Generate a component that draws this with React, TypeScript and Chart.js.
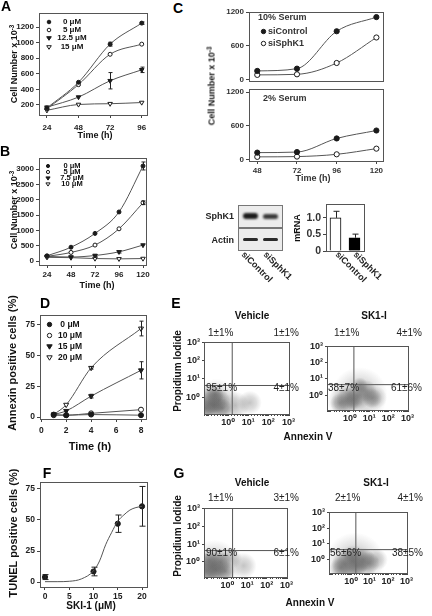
import React, { useEffect, useRef } from "react";
import { Chart, registerables } from "chart.js";
Chart.register(...registerables);

const FONT = "'Liberation Sans', Arial, Helvetica, 'DejaVu Sans', sans-serif";

// ---------- Panel A ----------
const A_HOURS = [24, 48, 72, 96];
const A_LABELS = ["0 μM", "5 μM", "12.5 μM", "15 μM"];
const A_0 = [160, 490, 980, 1250];
const A_5 = [150, 460, 850, 980];
const A_125 = [170, 300, 510, 650];
const A_15 = [130, 205, 215, 230];
const A_ERR_0 = [0, 0, 25, 15];
const A_ERR_125 = [0, 0, 105, 35];
const A_Y_TICKS = [200, 400, 600, 800, 1000, 1200];

// ---------- Panel B ----------
const B_HOURS = [24, 48, 72, 96, 120];
const B_LABELS = ["0 μM", "5 μM", "7.5 μM", "10 μM"];
const B_0 = [170, 450, 900, 1600, 3100];
const B_5 = [150, 280, 520, 1050, 1900];
const B_75 = [150, 130, 180, 300, 520];
const B_10 = [120, 110, 80, 70, 80];
const B_ERR_0 = [0, 0, 0, 0, 130];
const B_ERR_5 = [0, 0, 0, 0, 60];
const B_ERR_75 = [0, 0, 30, 40, 0];
const B_Y_TICKS = [0, 500, 1000, 1500, 2000, 2500, 3000];

// ---------- Panel C ----------
const C_HOURS = [48, 72, 96, 120];
const C_SERIES = ["siControl", "siSphK1"];
const C10_CTRL = [160, 200, 860, 1110];
const C10_SPH = [90, 100, 300, 750];
const C2_CTRL = [130, 140, 380, 520];
const C2_SPH = [55, 60, 100, 200];
const C_Y_TICKS = [0, 600, 1200];
const MRNA_CATS = ["siControl", "siSphK1"];
const MRNA_VALUES = [1.0, 0.4];
const MRNA_ERR = [0.2, 0.11];
const MRNA_TICKS = [0, 0.5, 1.0];

// ---------- Panel D ----------
const D_HOURS = [1, 2, 4, 8];
const D_LABELS = ["0 μM", "10 μM", "15 μM", "20 μM"];
const D_0 = [2, 1.5, 2, 1.5];
const D_10 = [1.5, 1.5, 3, 6];
const D_15 = [2, 5, 17, 38];
const D_20 = [2, 10, 40, 72];
const D_ERR_15 = [0, 0, 1.5, 7];
const D_ERR_20 = [0, 0, 1, 6];
const D_X_TICKS = [0, 2, 4, 6, 8];
const D_Y_TICKS = [0, 25, 50, 75];

// ---------- Panel F ----------
const F_DOSE = [0, 10, 15, 20];
const F_TUNEL = [4, 8.5, 47, 61];
const F_ERR = [2, 3.5, 7, 16];
const F_FIT_X = [0, 2.5, 5, 7.5, 10, 11.25, 12.5, 13.75, 15, 16.25, 17.5, 18.75, 20];
const F_FIT_Y = [0.3, 0.3, 0.6, 2.5, 9, 17, 30, 40, 49, 54, 58, 60, 61];
const F_X_TICKS = [0, 5, 10, 15, 20];
const F_Y_TICKS = [0, 25, 50, 75];

// ---------- Panels E / G (flow cytometry) ----------
const LOG_LABELS = ["10⁰", "10¹", "10²", "10³"];
const FLOW_DECADES = [1, 10, 100, 1000];
const E_VEH_Q = ["1±1%", "1±1%", "95±1%", "4±1%"];
const E_SKI_Q = ["1±1%", "4±1%", "38±7%", "61±6%"];
const G_VEH_Q = ["1±1%", "3±1%", "90±1%", "6±1%"];
const G_SKI_Q = ["2±1%", "4±1%", "56±6%", "38±5%"];
// cloud blobs: [annexin, PI, radius px]
const E_VEH_HALO = [[0.25, 0.5, 24], [2.3, 0.35, 14], [12, 0.5, 12], [0.1, 1.0, 14]];
const E_VEH_CORE = [[0.15, 0.43, 14], [0.35, 0.7, 11], [0.08, 0.25, 11], [0.5, 0.25, 10], [0.22, 1.4, 9], [0.2, 0.35, 9]];
const E_SKI_HALO = [[3.2, 1.0, 28], [0.45, 0.4, 16], [20, 0.7, 12]];
const E_SKI_CORE = [[2.5, 0.9, 14], [6.7, 1.8, 11], [0.8, 0.55, 12], [0.3, 0.32, 10], [14, 0.65, 10], [3.3, 4.0, 8], [1.5, 0.5, 10]];
const G_VEH_HALO = [[0.22, 0.6, 26], [6.6, 0.6, 13], [1.5, 1.6, 11]];
const G_VEH_CORE = [[0.17, 0.54, 16], [0.45, 0.95, 11], [0.09, 0.3, 11], [0.75, 0.3, 10], [0.25, 0.35, 10], [0.12, 1.1, 10]];
const G_SKI_HALO = [[1.6, 0.66, 30], [25, 1, 11]];
const G_SKI_CORE = [[1.35, 0.8, 16], [0.45, 0.54, 13], [4.5, 1.0, 12], [9, 0.6, 11], [0.27, 0.3, 11], [2, 0.4, 11], [1.1, 1.6, 9]];

// ---------- helpers ----------
type Box = { l: number; t: number; r: number; b: number };
type Pad = { L: number; T: number; R: number; B: number };
const DEF_PAD: Pad = { L: 40, T: 10, R: 14, B: 24 };

const framePlugin = {
  id: "frame",
  afterDatasetsDraw(chart: any) {
    const { ctx, chartArea: a } = chart;
    ctx.save();
    ctx.strokeStyle = "#555";
    ctx.lineWidth = 1;
    ctx.strokeRect(Math.round(a.left) + 0.5, Math.round(a.top) + 0.5, Math.round(a.right - a.left), Math.round(a.bottom - a.top));
    ctx.restore();
  },
};

const errPlugin = {
  id: "errbars",
  afterDatasetsDraw(chart: any) {
    const ctx = chart.ctx;
    const ys = chart.scales.y;
    chart.data.datasets.forEach((ds: any, i: number) => {
      if (!ds.err) return;
      const meta = chart.getDatasetMeta(i);
      ds.err.forEach((e: number, j: number) => {
        if (!e) return;
        const el: any = meta.data[j];
        if (!el) return;
        const raw = ds.data[j];
        const v = typeof raw === "number" ? raw : raw.y;
        const x = Math.round(el.x) + 0.5;
        const top = ys.getPixelForValue(v + e);
        const bot = ys.getPixelForValue(ds.errUp ? v : v - e);
        const cw = ds.cap ?? 2;
        ctx.save();
        ctx.strokeStyle = "#222";
        ctx.lineWidth = 1;
        ctx.beginPath();
        ctx.moveTo(x, top);
        ctx.lineTo(x, bot);
        ctx.moveTo(x - cw, top);
        ctx.lineTo(x + cw, top);
        if (!ds.errUp) {
          ctx.moveTo(x - cw, bot);
          ctx.lineTo(x + cw, bot);
        }
        ctx.stroke();
        ctx.restore();
      });
    });
  },
};

function axis(o: {
  min: number; max: number; ticks?: number[]; size?: number; pad?: number; len?: number;
  labels?: boolean; marks?: boolean; fmt?: (v: number) => string; type?: string; color?: string;
}) {
  return {
    type: o.type || "linear",
    min: o.min,
    max: o.max,
    afterBuildTicks: o.ticks ? (s: any) => { s.ticks = o.ticks!.map((v) => ({ value: v })); } : undefined,
    grid: { display: o.marks !== false, drawOnChartArea: false, drawTicks: true, tickLength: o.len ?? 3, color: "#444", lineWidth: 1 },
    border: { display: false },
    ticks: {
      display: o.labels !== false,
      autoSkip: false,
      maxRotation: 0,
      minRotation: 0,
      padding: o.pad ?? 2,
      color: o.color || "#222",
      font: { family: FONT, size: o.size ?? 8, weight: "bold" },
      callback: o.fmt ? (v: any) => o.fmt!(Number(v)) : (v: any) => String(v),
    },
  };
}

function series(xs: number[], ys: number[], kind: string, r = 2, err?: number[], line = true) {
  const tri = kind.includes("tri");
  return {
    type: "line",
    data: xs.map((x, i) => ({ x, y: ys[i] })),
    showLine: line,
    borderColor: "#555",
    borderWidth: 1,
    cubicInterpolationMode: "monotone",
    pointStyle: tri ? "triangle" : "circle",
    pointRotation: tri ? 180 : 0,
    pointRadius: tri ? r + 0.6 : r,
    pointBackgroundColor: kind === "dot" || kind === "tri" ? "#1a1a1a" : "#fff",
    pointBorderColor: "#1a1a1a",
    pointBorderWidth: 1,
    err,
    cap: 2,
    clip: 8,
  };
}

function ChartBox({ box, pad = DEF_PAD, build }: { box: Box; pad?: Pad; build: () => any }) {
  const ref = useRef<HTMLCanvasElement | null>(null);
  const w = box.r - box.l + pad.L + pad.R;
  const h = box.b - box.t + pad.T + pad.B;
  useEffect(() => {
    if (!ref.current) return;
    const cfg = build();
    const o = cfg.options || (cfg.options = {});
    o.responsive = false;
    o.maintainAspectRatio = false;
    o.animation = false;
    o.devicePixelRatio = 1;
    o.events = [];
    o.layout = { padding: { left: 0, top: pad.T, right: pad.R, bottom: 0 } };
    o.plugins = Object.assign({ legend: { display: false }, tooltip: { enabled: false }, title: { display: false } }, o.plugins || {});
    o.scales.x.afterFit = (s: any) => { s.height = pad.B; };
    o.scales.y.afterFit = (s: any) => { s.width = pad.L; };
    cfg.plugins = [...(cfg.plugins || []), framePlugin, errPlugin];
    const chart = new Chart(ref.current, cfg);
    return () => chart.destroy();
  }, []);
  return (
    <canvas
      ref={ref}
      width={w}
      height={h}
      style={{ position: "absolute", left: box.l - pad.L, top: box.t - pad.T, width: w, height: h }}
    />
  );
}

function Tx({ x, y, s = 9, b = true, a = "c", r = 0, c = "#111", children }: any) {
  const tx = a === "c" ? "-50%" : a === "r" ? "-100%" : "0";
  return (
    <div
      style={{
        position: "absolute", left: x, top: y,
        transform: `translate(${tx},-50%) rotate(${r}deg)`,
        fontFamily: FONT, fontSize: s, fontWeight: b ? "bold" : "normal", color: c,
        whiteSpace: "nowrap", lineHeight: 1,
      }}
    >
      {children}
    </div>
  );
}

function Diag({ x, y, s = 9, children }: any) {
  return (
    <div
      style={{
        position: "absolute", left: x, top: y, transformOrigin: "0 0", transform: "rotate(45deg)",
        fontFamily: FONT, fontSize: s, fontWeight: "bold", color: "#222", whiteSpace: "nowrap", lineHeight: 1,
      }}
    >
      {children}
    </div>
  );
}

function Mk({ x, y, k, r = 2 }: { x: number; y: number; k: string; r?: number }) {
  const s = Math.ceil(r * 2 + 4);
  const fill = k === "dot" || k === "tri" ? "#1a1a1a" : "#fff";
  return (
    <svg style={{ position: "absolute", left: x - s / 2, top: y - s / 2 }} width={s} height={s}>
      {k.includes("tri") ? (
        <polygon points={`${s / 2 - r - 0.5},${s / 2 - r + 0.5} ${s / 2 + r + 0.5},${s / 2 - r + 0.5} ${s / 2},${s / 2 + r + 0.5}`} fill={fill} stroke="#1a1a1a" strokeWidth={1} />
      ) : (
        <circle cx={s / 2} cy={s / 2} r={r} fill={fill} stroke="#1a1a1a" strokeWidth={1} />
      )}
    </svg>
  );
}

function YTitle({ x, y, s = 9 }: any) {
  return (
    <Tx x={x} y={y} s={s} r={-90}>
      Cell Number x 10<sup style={{ fontSize: s * 0.7, verticalAlign: "top", position: "relative", top: -1 }}>-3</sup>
    </Tx>
  );
}

function Letter({ x, y, ch }: any) {
  return <Tx x={x} y={y} s={14} c="#000">{ch}</Tx>;
}

function timeChart(box: Box, xMin: number, xMax: number, xTicks: number[], yMin: number, yMax: number, yTicks: number[], datasets: any[], o: any = {}) {
  return () => ({
    type: "line",
    data: { datasets },
    options: {
      scales: {
        x: axis({ min: xMin, max: xMax, ticks: xTicks, size: o.size ?? 8, pad: o.xpad ?? 3, labels: o.xlabels !== false, marks: o.xmarks !== false, color: o.color }),
        y: axis({ min: yMin, max: yMax, ticks: yTicks, size: o.size ?? 8, pad: o.ypad ?? 2, color: o.color }),
      },
    },
  });
}

function cloud(blobs: number[][], alpha: number) {
  return {
    type: "bubble",
    data: blobs.map(([x, y, r]) => ({ x, y, r })),
    backgroundColor: (c: any) => {
      const chart = c.chart;
      const raw = c.raw;
      if (!raw || !chart.scales || !chart.scales.x) return "rgba(0,0,0,0)";
      const px = chart.scales.x.getPixelForValue(raw.x);
      const py = chart.scales.y.getPixelForValue(raw.y);
      if (!isFinite(px) || !isFinite(py)) return "rgba(0,0,0,0)";
      const g = chart.ctx.createRadialGradient(px, py, 0, px, py, raw.r);
      g.addColorStop(0, `rgba(100,100,100,${alpha})`);
      g.addColorStop(0.55, `rgba(110,110,110,${alpha * 0.6})`);
      g.addColorStop(1, "rgba(120,120,120,0)");
      return g;
    },
    borderWidth: 0,
    clip: 0,
  };
}

function vline(x: number, y0: number, y1: number) {
  return { type: "line", data: [{ x, y: y0 }, { x, y: y1 }], borderColor: "#555", borderWidth: 1, pointRadius: 0, clip: 0 };
}

const logFmt = (v: number) => {
  const e = Math.log10(v);
  const k = Math.round(e);
  return Math.abs(e - k) < 1e-6 && k >= 0 && k <= 3 ? LOG_LABELS[k] : "";
};

function flowChart(halo: number[][], core: number[][], qx: number, qy: number, yMin: number, coreAlpha = 0.55) {
  const xMin = 0.063, xMax = 1070, yMax = 1070;
  return () => ({
    type: "scatter",
    data: {
      datasets: [
        cloud(halo, 0.38),
        cloud(core, coreAlpha),
        vline(qx, yMin, yMax),
        { type: "line", data: [{ x: xMin, y: qy }, { x: xMax, y: qy }], borderColor: "#555", borderWidth: 1, pointRadius: 0, clip: 0 },
      ],
    },
    options: {
      scales: {
        x: { ...axis({ type: "logarithmic", min: xMin, max: xMax, size: 9, pad: 1, len: 2, fmt: logFmt }) },
        y: { ...axis({ type: "logarithmic", min: yMin, max: yMax, ticks: FLOW_DECADES, size: 9, pad: 2, len: 2, fmt: logFmt }) },
      },
    },
  });
}

function QuadLabels({ box, q, ty, by, tlx, blx }: any) {
  return (
    <>
      <Tx x={tlx} y={ty} s={10} b={false} a="l" c="#222">{q[0]}</Tx>
      <Tx x={box.r} y={ty} s={10} b={false} a="r" c="#222">{q[1]}</Tx>
      <Tx x={blx} y={by} s={10} b={false} a="l" c="#222">{q[2]}</Tx>
      <Tx x={box.r} y={by} s={10} b={false} a="r" c="#222">{q[3]}</Tx>
    </>
  );
}

// ---------- boxes ----------
const BOX_A: Box = { l: 39, t: 13, r: 147, b: 115 };
const BOX_B: Box = { l: 39, t: 158, r: 146, b: 265 };
const BOX_C1: Box = { l: 249, t: 12, r: 383, b: 81 };
const BOX_C2: Box = { l: 249, t: 89, r: 383, b: 161 };
const BOX_M: Box = { l: 326, t: 204, r: 364, b: 251 };
const BOX_D: Box = { l: 40, t: 315, r: 146, b: 419 };
const BOX_F: Box = { l: 40, t: 482, r: 147, b: 587 };
const BOX_EV: Box = { l: 204, t: 328, r: 299, b: 414 };
const BOX_ES: Box = { l: 327, t: 328, r: 422, b: 414 };
const BOX_GV: Box = { l: 204, t: 492, r: 299, b: 579 };
const BOX_GS: Box = { l: 329, t: 492, r: 423, b: 579 };

export default function App() {
  const kinds = ["dot", "ring", "tri", "otri"];
  return (
    <div style={{ position: "absolute", left: 0, top: 0, width: 432, height: 616, background: "#fff", overflow: "hidden" }}>
      {/* ---- A ---- */}
      <ChartBox
        box={BOX_A}
        build={timeChart(BOX_A, 18, 100, A_HOURS, 70, 1380, A_Y_TICKS, [
          series(A_HOURS, A_0, "dot", 2, A_ERR_0),
          series(A_HOURS, A_5, "ring", 2),
          series(A_HOURS, A_125, "tri", 2, A_ERR_125),
          series(A_HOURS, A_15, "otri", 2),
        ], { xpad: 5 })}
      />
      <Letter x={6} y={6} ch="A" />
      <YTitle x={14} y={64} />
      <Tx x={95} y={135}>Time (h)</Tx>
      {A_LABELS.map((t, i) => (
        <React.Fragment key={"al" + i}>
          <Mk x={49} y={22 + i * 8.2} k={kinds[i]} r={1.8} />
          <Tx x={72} y={22 + i * 8.2} s={8}>{t}</Tx>
        </React.Fragment>
      ))}

      {/* ---- B ---- */}
      <ChartBox
        box={BOX_B}
        build={timeChart(BOX_B, 16, 123, B_HOURS, -130, 3360, B_Y_TICKS, [
          series(B_HOURS, B_0, "dot", 2, B_ERR_0),
          series(B_HOURS, B_5, "ring", 2, B_ERR_5),
          series(B_HOURS, B_75, "tri", 2, B_ERR_75),
          series(B_HOURS, B_10, "otri", 2),
        ], { xpad: 2 })}
      />
      <Letter x={5} y={151} ch="B" />
      <YTitle x={14} y={210} />
      <Tx x={97} y={285}>Time (h)</Tx>
      {B_LABELS.map((t, i) => (
        <React.Fragment key={"bl" + i}>
          <Mk x={48} y={166 + i * 6} k={kinds[i]} r={1.6} />
          <Tx x={72} y={166 + i * 6} s={7.5}>{t}</Tx>
        </React.Fragment>
      ))}

      {/* ---- C ---- */}
      <ChartBox
        box={BOX_C1}
        build={timeChart(BOX_C1, 43, 124, C_HOURS, -18, 1200, C_Y_TICKS, [
          series(C_HOURS, C10_CTRL, "dot", 2.6),
          series(C_HOURS, C10_SPH, "ring", 2.6),
        ], { xlabels: false, xmarks: false, color: "#333" })}
      />
      <ChartBox
        box={BOX_C2}
        build={timeChart(BOX_C2, 43, 124, C_HOURS, -18, 1253, C_Y_TICKS, [
          series(C_HOURS, C2_CTRL, "dot", 2.6),
          series(C_HOURS, C2_SPH, "ring", 2.6),
        ], { xpad: 2, color: "#333" })}
      />
      <Letter x={178} y={8} ch="C" />
      <YTitle x={212} y={86} />
      <Tx x={313} y={178} c="#333">Time (h)</Tx>
      <Tx x={258} y={17} a="l" c="#333">10% Serum</Tx>
      <Mk x={263} y={31} k="dot" r={2.2} />
      <Tx x={268} y={31} a="l" c="#333">{C_SERIES[0]}</Tx>
      <Mk x={263} y={43} k="ring" r={2.2} />
      <Tx x={268} y={43} a="l" c="#333">{C_SERIES[1]}</Tx>
      <Tx x={263} y={98} a="l" c="#333">2% Serum</Tx>

      {/* western blot */}
      <div style={{ position: "absolute", left: 238, top: 205, width: 43, height: 21, border: "1px solid #777", background: "#ececec" }} />
      <div style={{ position: "absolute", left: 238, top: 228, width: 43, height: 21, border: "1px solid #777", background: "#ececec" }} />
      <div style={{ position: "absolute", left: 243, top: 213, width: 15, height: 6, borderRadius: 3, background: "#1c1c1c", filter: "blur(0.8px)" }} />
      <div style={{ position: "absolute", left: 263, top: 213.5, width: 15, height: 5, borderRadius: 3, background: "#3a3a3a", filter: "blur(0.8px)" }} />
      <div style={{ position: "absolute", left: 243, top: 237.5, width: 15, height: 3, borderRadius: 2, background: "#2a2a2a", filter: "blur(0.6px)" }} />
      <div style={{ position: "absolute", left: 263, top: 237.5, width: 15, height: 3, borderRadius: 2, background: "#2a2a2a", filter: "blur(0.6px)" }} />
      <Tx x={234} y={216} a="r" c="#222">SphK1</Tx>
      <Tx x={234} y={240} a="r" c="#222">Actin</Tx>
      <Diag x={246} y={250}>{MRNA_CATS[0]}</Diag>
      <Diag x={268} y={250}>{MRNA_CATS[1]}</Diag>

      {/* mRNA bars */}
      <ChartBox
        box={BOX_M}
        build={() => ({
          type: "bar",
          data: {
            labels: MRNA_CATS,
            datasets: [{
              data: MRNA_VALUES,
              backgroundColor: ["#fff", "#000"],
              borderColor: "#000",
              borderWidth: 1,
              barThickness: 11,
              err: MRNA_ERR,
              errUp: true,
              cap: 3,
            }],
          },
          options: {
            scales: {
              x: { type: "category", grid: { display: false }, border: { display: false }, ticks: { display: false } },
              y: axis({ min: 0, max: 1.42, ticks: MRNA_TICKS, size: 10.5, pad: 2, fmt: (v) => (v === 0 ? "0" : v.toFixed(1)), color: "#333" }),
            },
          },
        })}
      />
      <Tx x={297} y={228} r={-90}>mRNA</Tx>
      <Diag x={340} y={250}>{MRNA_CATS[0]}</Diag>
      <Diag x={358} y={250}>{MRNA_CATS[1]}</Diag>

      {/* ---- D ---- */}
      <ChartBox
        box={BOX_D}
        build={timeChart(BOX_D, -0.1, 8.4, D_X_TICKS, -1.6, 83, D_Y_TICKS, [
          series(D_HOURS, D_0, "dot", 2.5),
          series(D_HOURS, D_10, "ring", 2.5),
          series(D_HOURS, D_15, "tri", 2.3, D_ERR_15),
          series(D_HOURS, D_20, "otri", 2.3, D_ERR_20),
        ], { size: 8.5, xpad: 4 })}
      />
      <Letter x={45} y={303} ch="D" />
      <Tx x={12} y={363} s={11} r={-90}>Annexin positive cells (%)</Tx>
      <Tx x={90} y={446} s={11}>Time (h)</Tx>
      {D_LABELS.map((t, i) => (
        <React.Fragment key={"dl" + i}>
          <Mk x={49} y={324 + i * 11} k={kinds[i]} r={2.2} />
          <Tx x={70} y={324 + i * 11} s={8.5}>{t}</Tx>
        </React.Fragment>
      ))}

      {/* ---- F ---- */}
      <ChartBox
        box={BOX_F}
        build={() => ({
          type: "line",
          data: {
            datasets: [
              { type: "line", data: F_FIT_X.map((x, i) => ({ x, y: F_FIT_Y[i] })), borderColor: "#555", borderWidth: 1, pointRadius: 0, cubicInterpolationMode: "monotone", clip: 4 },
              { ...series(F_DOSE, F_TUNEL, "dot", 2.6, F_ERR, false), cap: 3 },
            ],
          },
          options: {
            scales: {
              x: axis({ min: -1.03, max: 21.03, ticks: F_X_TICKS, size: 8.5, pad: 2 }),
              y: axis({ min: -4, max: 80.6, ticks: F_Y_TICKS, size: 8.5, pad: 2 }),
            },
          },
        })}
      />
      <Letter x={47} y={473} ch="F" />
      <Tx x={13} y={533} s={11} r={-90}>TUNEL positive cells (%)</Tx>
      <Tx x={91} y={606} s={10}>SKI-1 (μM)</Tx>

      {/* ---- E ---- */}
      <ChartBox box={BOX_EV} build={flowChart(E_VEH_HALO, E_VEH_CORE, 1.6, 4.4, 0.12, 0.7)} />
      <ChartBox box={BOX_ES} build={flowChart(E_SKI_HALO, E_SKI_CORE, 1.6, 4.4, 0.12)} />
      <Letter x={176} y={303} ch="E" />
      <Tx x={252} y={316} s={10}>Vehicle</Tx>
      <Tx x={374} y={316} s={10}>SK1-I</Tx>
      <Tx x={178} y={371} s={10} r={-90}>Propidium Iodide</Tx>
      <Tx x={308} y={437} s={10}>Annexin V</Tx>
      <QuadLabels box={BOX_EV} q={E_VEH_Q} ty={333} by={388} tlx={208} blx={206} />
      <QuadLabels box={BOX_ES} q={E_SKI_Q} ty={333} by={388} tlx={334} blx={328} />

      {/* ---- G ---- */}
      <ChartBox box={BOX_GV} build={flowChart(G_VEH_HALO, G_VEH_CORE, 1.8, 4.3, 0.14, 0.7)} />
      <ChartBox box={BOX_GS} build={flowChart(G_SKI_HALO, G_SKI_CORE, 1.8, 4.3, 0.14, 0.62)} />
      <Letter x={179} y={473} ch="G" />
      <Tx x={252} y={483} s={10}>Vehicle</Tx>
      <Tx x={376} y={483} s={10}>SK1-I</Tx>
      <Tx x={178} y={536} s={10} r={-90}>Propidium Iodide</Tx>
      <Tx x={310} y={603} s={10}>Annexin V</Tx>
      <QuadLabels box={BOX_GV} q={G_VEH_Q} ty={498} by={553} tlx={208} blx={206} />
      <QuadLabels box={BOX_GS} q={G_SKI_Q} ty={498} by={553} tlx={335} blx={330} />
    </div>
  );
}
